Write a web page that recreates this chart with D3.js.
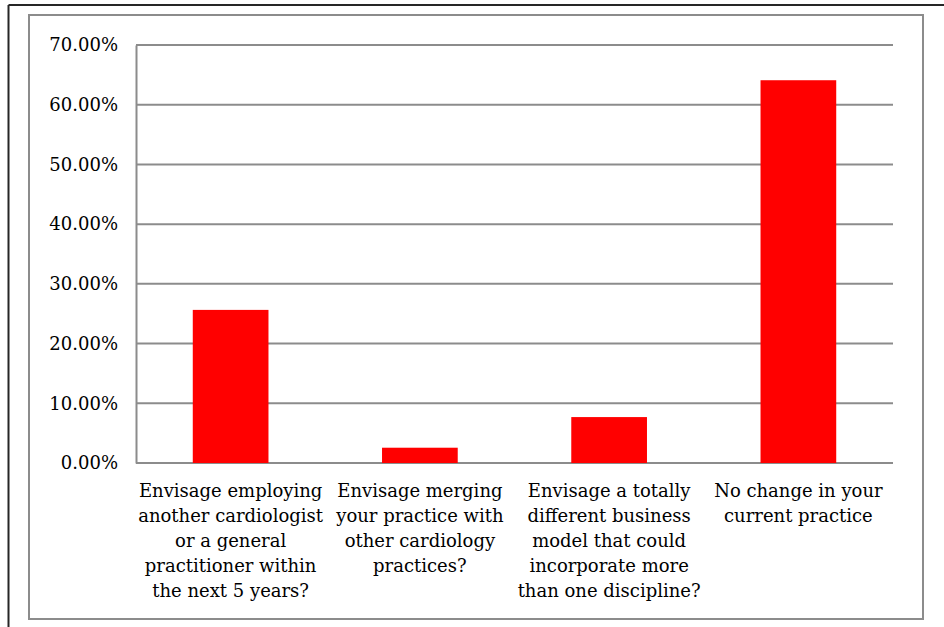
<!DOCTYPE html>
<html>
<head>
<meta charset="utf-8">
<script src="https://cdn.jsdelivr.net/npm/d3@7"></script>
<style>
  body { margin: 0; background: #fff; }
  text { font-family: "DejaVu Serif", serif; fill: #000; }
</style>
</head>
<body>
<div class="chart"></div>
<script>
// answers, already broken into the lines shown under each bar
var categories = [
  ["Envisage employing", "another cardiologist", "or a general", "practitioner within", "the next 5 years?"],
  ["Envisage merging", "your practice with", "other cardiology", "practices?"],
  ["Envisage a totally", "different business", "model that could", "incorporate more", "than one discipline?"],
  ["No change in your", "current practice"]
];
var values = [0.2564, 0.0256, 0.0769, 0.641];
var yTicks = [0, 0.1, 0.2, 0.3, 0.4, 0.5, 0.6, 0.7];

var W = 944, H = 627;
var margin = {top: 45, right: 51, bottom: 164, left: 136};

var svg = d3.select(".chart")
            .append("svg")
            .attr("width", W)
            .attr("height", H);

// outer frame (only top and left edges show)
svg.append("line").attr("x1", 8.5).attr("x2", W).attr("y1", 5).attr("y2", 5)
   .attr("stroke", "#262626").attr("stroke-width", 2);
svg.append("line").attr("x1", 8.5).attr("x2", 8.5).attr("y1", 5).attr("y2", H)
   .attr("stroke", "#262626").attr("stroke-width", 2);

// chart area border
svg.append("rect")
   .attr("x", 29).attr("y", 15)
   .attr("width", 894).attr("height", 604)
   .attr("fill", "#fff")
   .attr("stroke", "#8c8c8c")
   .attr("stroke-width", 2);

var x = d3.scaleBand()
          .domain(d3.range(categories.length))
          .range([margin.left, W - margin.right])
          .paddingInner(0.6)
          .paddingOuter(0.3);

var y = d3.scaleLinear()
          .domain([0, 0.7])
          .range([H - margin.bottom, margin.top]);

// gridlines
svg.append("g")
   .selectAll("line")
   .data(yTicks)
   .enter()
   .append("line")
   .attr("x1", margin.left)
   .attr("x2", W - margin.right)
   .attr("y1", function(d) { return y(d); })
   .attr("y2", function(d) { return y(d); })
   .attr("stroke", "#8c8c8c")
   .attr("stroke-width", 2);

// y axis
var yAxis = d3.axisLeft(y)
              .tickValues(yTicks)
              .tickSize(0)
              .tickPadding(18)
              .tickFormat(d3.format(".2%"));

var gy = svg.append("g")
            .attr("transform", "translate(" + margin.left + ",0)")
            .call(yAxis);
gy.select(".domain").attr("stroke", "#8c8c8c").attr("stroke-width", 2);
gy.selectAll("text").style("font-size", "18px");

// bars
svg.append("g")
   .selectAll("rect")
   .data(values)
   .enter()
   .append("rect")
   .attr("x", function(d, i) { return x(i); })
   .attr("y", function(d) { return y(d); })
   .attr("width", x.bandwidth())
   .attr("height", function(d) { return y(0) - y(d); })
   .attr("fill", "#ff0000");

// category labels
var lab = svg.append("g")
             .selectAll("text")
             .data(categories)
             .enter()
             .append("text")
             .attr("text-anchor", "middle")
             .attr("x", function(d, i) { return x(i) + x.bandwidth() / 2; })
             .attr("y", y(0) + 34)
             .style("font-size", "18px");

lab.selectAll("tspan")
   .data(function(d) { return d; })
   .enter()
   .append("tspan")
   .attr("x", function() { return d3.select(this.parentNode).attr("x"); })
   .attr("dy", function(d, i) { return i === 0 ? 0 : 25; })
   .text(function(d) { return d; });
</script>
</body>
</html>
